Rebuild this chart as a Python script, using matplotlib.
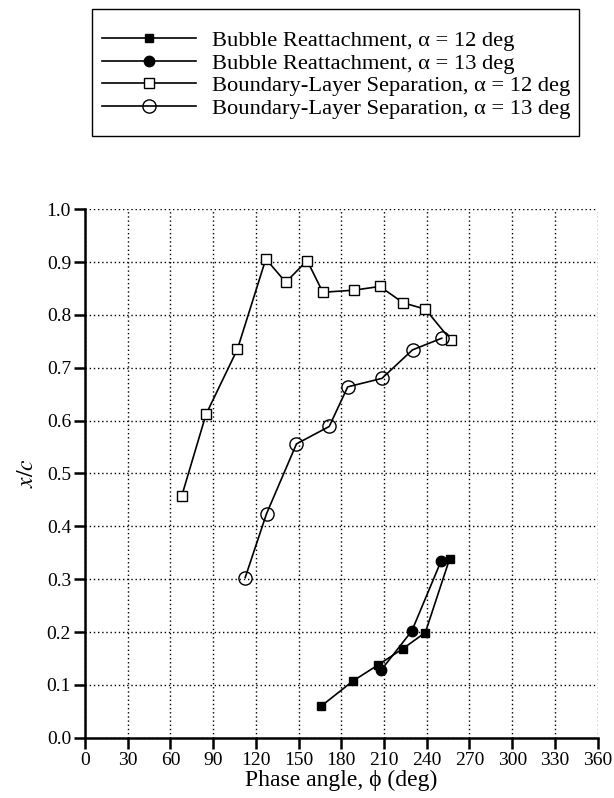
import matplotlib
matplotlib.use("Agg")
import matplotlib.pyplot as plt
from matplotlib.patches import Rectangle
import numpy as np

plt.rcParams['font.family'] = ['Liberation Serif', 'DejaVu Serif']
plt.rcParams['mathtext.fontset'] = 'stix'

# Bubble reattachment, alpha = 12 deg (filled squares)
br12_phi = [166, 188, 206, 223, 239, 256]
br12_xc = [0.060, 0.107, 0.138, 0.168, 0.199, 0.338]

# Bubble reattachment, alpha = 13 deg (filled circles)
br13_phi = [208, 229.5, 250]
br13_xc = [0.128, 0.202, 0.334]

# Boundary-layer separation, alpha = 12 deg (open squares)
bl12_phi = [68, 85, 107, 127, 141, 156, 167, 189, 207, 223.5, 239, 257]
bl12_xc = [0.458, 0.612, 0.735, 0.906, 0.862, 0.903, 0.843, 0.847, 0.854, 0.823, 0.811, 0.752]

# Boundary-layer separation, alpha = 13 deg (open circles)
bl13_phi = [112.5, 127.5, 148.5, 171.5, 184.5, 208.5, 230, 250.5]
bl13_xc = [0.303, 0.424, 0.556, 0.589, 0.664, 0.680, 0.734, 0.756]

labels = [
    'Bubble Reattachment, \u03b1 = 12 deg',
    'Bubble Reattachment, \u03b1 = 13 deg',
    'Boundary-Layer Separation, \u03b1 = 12 deg',
    'Boundary-Layer Separation, \u03b1 = 13 deg',
]

fig = plt.figure(figsize=(6.14, 7.98), dpi=100)
ax = fig.add_axes([0.1384, 0.0756, 0.835, 0.6621])

lw = 1.2
h1, = ax.plot(br12_phi, br12_xc, color='black', lw=lw, marker='s', ms=6,
              mfc='black', mec='black', label=labels[0])
h2, = ax.plot(br13_phi, br13_xc, color='black', lw=lw, marker='o', ms=7.5,
              mfc='black', mec='black', label=labels[1])
h3, = ax.plot(bl12_phi, bl12_xc, color='black', lw=lw, marker='s', ms=7,
              mfc='white', mec='black', mew=1.0, label=labels[2])
h4, = ax.plot(bl13_phi, bl13_xc, color='black', lw=lw, marker='o', ms=9.5,
              mfc='none', mec='black', mew=1.0, label=labels[3])

ax.set_xlim(0, 360)
ax.set_ylim(0, 1.0)
ax.set_xticks(np.arange(0, 361, 30))
ax.set_yticks(np.arange(0, 1.01, 0.1))
ax.set_yticklabels([f'{v:.1f}' for v in np.arange(0, 1.01, 0.1)])
ax.grid(True, color='black', linestyle=(0, (1, 2)), linewidth=1.0)
ax.set_axisbelow(True)

for s in ['top', 'right']:
    ax.spines[s].set_visible(False)
for s in ['left', 'bottom']:
    ax.spines[s].set_linewidth(1.8)
ax.tick_params(direction='out', length=8, width=1.8, labelsize=14, pad=2)

ax.set_xlabel('Phase angle, \u03d5 (deg)', fontsize=17, labelpad=1)
ax.set_ylabel('$x/c$', fontsize=17, labelpad=6)

# legend without its own frame, boxed separately so the vertical padding
# can be larger than the horizontal one
leg = fig.legend(handles=[h1, h2, h3, h4], loc='upper left',
                 bbox_to_anchor=(0.1661, 0.9619), fontsize=16.2,
                 handlelength=4.2, handletextpad=0.67, labelspacing=0.08,
                 borderpad=0, borderaxespad=0, frameon=False)
fig.patches.append(Rectangle((0.1498, 0.8296), 0.7932, 0.1591,
                             transform=fig.transFigure, fill=False,
                             edgecolor='black', linewidth=1.0))

fig.savefig('out.png', dpi=100)
